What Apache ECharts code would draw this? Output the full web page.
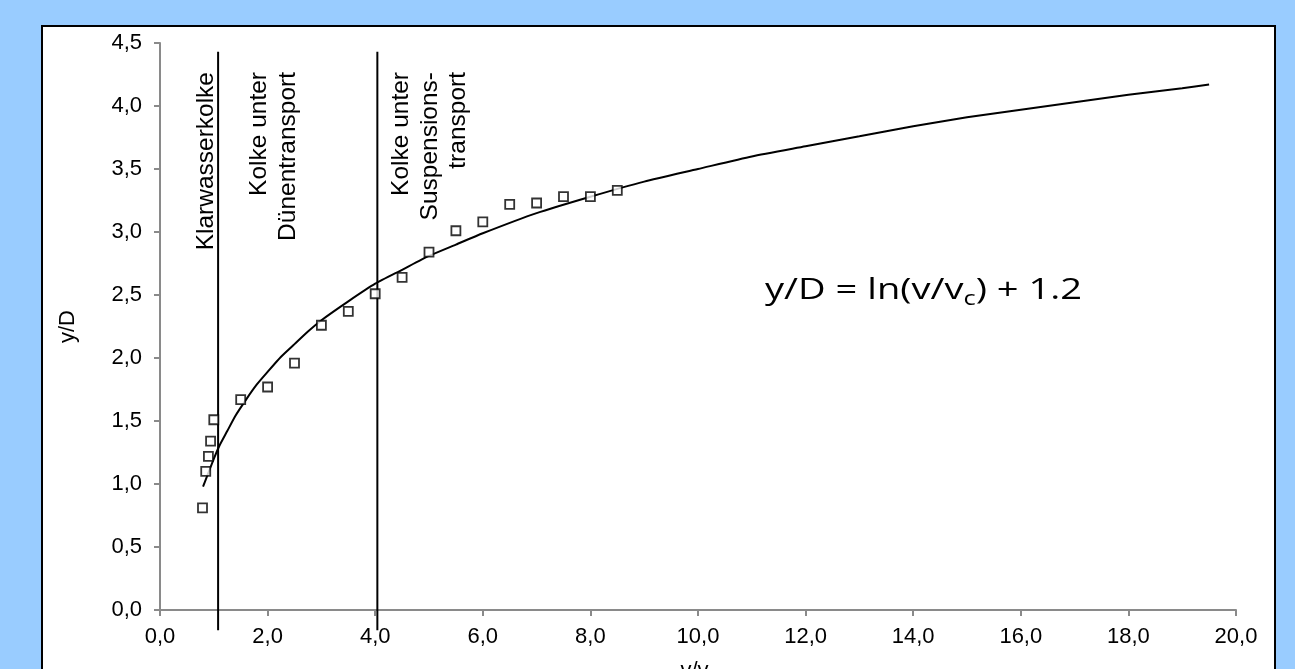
<!DOCTYPE html>
<html>
<head>
<meta charset="utf-8">
<script src="https://cdn.jsdelivr.net/npm/echarts@6/dist/echarts.min.js"></script>
<style>
  html, body { margin: 0; padding: 0; background: #99ccff; }
  #chart { width: 1295px; height: 669px; }
</style>
</head>
<body>
<div id="chart"></div>
<script>
// Messpunkte (v/vc, y/D)
const pointsX = [0.79, 0.85, 0.90, 0.94, 1.0, 1.5, 2.0, 2.5, 3.0, 3.5, 4.0, 4.5, 5.0, 5.5, 6.0, 6.5, 7.0, 7.5, 8.0, 8.5];
const pointsY = [0.81, 1.10, 1.22, 1.34, 1.51, 1.67, 1.77, 1.96, 2.26, 2.37, 2.51, 2.64, 2.84, 3.01, 3.08, 3.22, 3.23, 3.28, 3.28, 3.33];

// Ausgleichskurve
const curveX = [0.8, 0.9, 1.0, 1.1, 1.25, 1.4, 1.6, 1.8, 2.0, 2.25, 2.5, 2.75, 3.0, 3.5, 4.0, 4.5, 5.0, 5.5, 6.0, 7.0, 8.0, 9.0, 10, 11, 12, 13, 14, 15, 16, 17, 18, 19, 19.5];
const curveY = [0.98, 1.09, 1.2, 1.3, 1.42, 1.54, 1.67, 1.79, 1.89, 2.01, 2.11, 2.21, 2.3, 2.45, 2.59, 2.7, 2.81, 2.9, 2.99, 3.15, 3.28, 3.4, 3.5, 3.6, 3.68, 3.76, 3.84, 3.91, 3.97, 4.03, 4.09, 4.14, 4.17];

// Bereichsgrenzen
const boundaryX = [1.08, 4.04];
const boundaryY = [4.43, -0.16];

const xTicks = { min: 0, max: 20, interval: 2 };
const yTicks = { min: 0, max: 4.5, interval: 0.5 };

const chart = echarts.init(document.getElementById('chart'));

const axisGrey = '#8a8a8a';
const fmt = v => v.toFixed(1).replace('.', ',');

const option = {
    backgroundColor: '#99ccff',
    animation: false,
    grid: { left: 160, right: 59, top: 43, bottom: 59, outerBoundsMode: 'none', containLabel: false },
    xAxis: {
        type: 'value',
        min: xTicks.min, max: xTicks.max, interval: xTicks.interval,
        splitLine: { show: false },
        axisLine: { show: true, onZero: false, lineStyle: { color: axisGrey, width: 2 } },
        axisTick: { show: true, length: 6, lineStyle: { color: axisGrey, width: 2 } },
        axisLabel: { formatter: fmt, color: '#000', fontFamily: 'Liberation Sans', fontSize: 22, margin: 16 },
        name: 'v/v{s|c}',
        nameLocation: 'middle',
        nameGap: 50,
        nameTextStyle: {
            color: '#000', fontFamily: 'Liberation Sans', fontSize: 22,
            rich: { s: { fontSize: 14, verticalAlign: 'bottom', fontFamily: 'Liberation Sans', color: '#000' } }
        }
    },
    yAxis: {
        type: 'value',
        min: yTicks.min, max: yTicks.max, interval: yTicks.interval,
        splitLine: { show: false },
        axisLine: { show: true, lineStyle: { color: axisGrey, width: 2 } },
        axisTick: { show: true, length: 6, lineStyle: { color: axisGrey, width: 2 } },
        axisLabel: { formatter: fmt, color: '#000', fontFamily: 'Liberation Sans', fontSize: 22, margin: 18 },
        name: 'y/D',
        nameLocation: 'middle',
        nameGap: 81,
        nameTextStyle: { color: '#000', fontFamily: 'Liberation Sans', fontSize: 22 }
    },
    graphic: [
        {
            type: 'rect', z: -100, silent: true,
            shape: { x: 42, y: 26, width: 1233, height: 700 },
            style: { fill: '#ffffff', stroke: '#000', lineWidth: 2 }
        },
        {
            type: 'text', x: 206, y: 72, rotation: Math.PI / 2,
            style: { text: 'Klarwasserkolke', fontFamily: 'Liberation Sans', fontSize: 24.5,
                     align: 'right', verticalAlign: 'middle', fill: '#000' }
        },
        {
            type: 'text', x: 274, y: 72, rotation: Math.PI / 2,
            style: { text: 'Kolke unter\nDünentransport', fontFamily: 'Liberation Sans', fontSize: 24.5,
                     lineHeight: 29, align: 'right', verticalAlign: 'middle', fill: '#000' }
        },
        {
            type: 'text', x: 430, y: 72, rotation: Math.PI / 2,
            style: { text: 'Kolke unter\nSuspensions-\ntransport', fontFamily: 'Liberation Sans', fontSize: 24.5,
                     lineHeight: 28.5, align: 'right', verticalAlign: 'middle', fill: '#000' }
        },
        {
            // Formel, im Original breit gezogen
            type: 'text', x: 765, y: 290, scaleX: 1.27,
            style: {
                text: 'y/D = ln(v/v{s|c}) + 1.2',
                fontFamily: 'Open Sans', fontSize: 30, fill: '#000',
                align: 'left', verticalAlign: 'middle',
                rich: { s: { fontFamily: 'Open Sans', fontSize: 20, padding: [18, 0, 0, 0], fill: '#000' } }
            }
        }
    ],
    series: [
        {
            name: 'Grenze 1',
            type: 'line',
            clip: false,
            symbol: 'none',
            lineStyle: { color: '#000', width: 2 },
            data: [[boundaryX[0], boundaryY[0]], [boundaryX[0], boundaryY[1]]]
        },
        {
            name: 'Grenze 2',
            type: 'line',
            clip: false,
            symbol: 'none',
            lineStyle: { color: '#000', width: 2 },
            data: [[boundaryX[1], boundaryY[0]], [boundaryX[1], boundaryY[1]]]
        },
        {
            name: 'Kurve',
            type: 'line',
            smooth: 0.2,
            symbol: 'none',
            lineStyle: { color: '#000', width: 2 },
            data: curveX.map((x, i) => [x, curveY[i]])
        },
        {
            name: 'Messwerte',
            type: 'scatter',
            symbol: 'rect',
            symbolSize: 9,
            itemStyle: { color: '#fff', borderColor: '#000', borderWidth: 1.8 },
            z: 5,
            data: pointsX.map((x, i) => [x, pointsY[i]])
        }
    ]
};

chart.setOption(option);
</script>
</body>
</html>
